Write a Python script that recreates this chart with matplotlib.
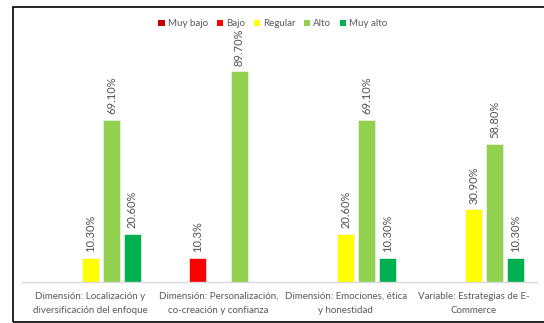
import matplotlib
matplotlib.use("Agg")
import matplotlib.pyplot as plt
import numpy as np
from matplotlib.patches import Rectangle, Patch

categories = ["Dimensión: Localización y\ndiversificación del enfoque",
              "Dimensión: Personalización,\nco-creación y confianza",
              "Dimensión: Emociones, ética\ny honestidad",
              "Variable: Estrategias de E-\nCommerce"]
series = ["Muy bajo", "Bajo", "Regular", "Alto", "Muy alto"]
colors = ["#C00000", "#FF0000", "#FFFF00", "#92D050", "#00B050"]
muy_bajo = [None, None, None, None]
bajo = [None, 10.3, None, None]
regular = [10.30, None, 20.60, 30.90]
alto = [69.10, 89.70, 69.10, 58.80]
muy_alto = [20.60, None, 10.30, 10.30]
labels = [
    [None, None, None, None],
    [None, "10.3%", None, None],
    ["10.30%", None, "20.60%", "30.90%"],
    ["69.10%", "89.70%", "69.10%", "58.80%"],
    ["20.60%", None, "10.30%", "10.30%"],
]
values = [muy_bajo, bajo, regular, alto, muy_alto]

plt.rcParams['font.family'] = ['Lato', 'DejaVu Sans']

W, H = 544, 323
fig = plt.figure(figsize=(W / 100, H / 100), dpi=100)
ax = fig.add_axes([22 / W, 1 - 282 / H, 515 / W, 235 / H])

slot = 0.164
bw = 0.133
x = np.arange(len(categories))
for i, (name, vals, col) in enumerate(zip(series, values, colors)):
    xs, hs, ls = [], [], []
    for j, v in enumerate(vals):
        if v is not None:
            xs.append(x[j] + (i - 2) * slot)
            hs.append(v)
            ls.append(labels[i][j])
    bars = ax.bar(xs, hs, width=bw, color=col,
                  edgecolor="#f0f0f0", linewidth=0.5)
    for b, lab in zip(bars, ls):
        ax.annotate(lab, (b.get_x() + b.get_width() / 2, b.get_height()),
                    xytext=(0, 4), textcoords="offset points",
                    rotation=90, ha="center", va="bottom",
                    fontsize=8, color="#505050")

ax.set_xlim(-0.536, 3.496)
ax.set_ylim(0, 100)
ax.set_yticks([])
ax.set_xticks(x)
ax.set_xticklabels(categories, fontsize=7, color="#595959", linespacing=1.75)
ax.tick_params(axis="x", length=0, pad=7)
for s in ["top", "right", "left"]:
    ax.spines[s].set_visible(False)
ax.spines["bottom"].set_color("#d9d9d9")
ax.spines["bottom"].set_linewidth(1)

handles = [Patch(facecolor=c, label=n) for n, c in zip(series, colors)]
ax.legend(handles=handles, loc="center", bbox_to_anchor=(273 / W, 1 - 24 / H),
          bbox_transform=fig.transFigure, ncol=5, frameon=False,
          fontsize=7, handlelength=0.65, handleheight=0.65,
          handletextpad=0.3, columnspacing=0.9, labelcolor="#595959")

fig.patches.append(Rectangle((13 / W, 1 - 321.5 / H), 600 / W, (321.5 - 7) / H,
                             transform=fig.transFigure, fill=False,
                             edgecolor="black", linewidth=1.2))

fig.savefig("out.png", dpi=100)
